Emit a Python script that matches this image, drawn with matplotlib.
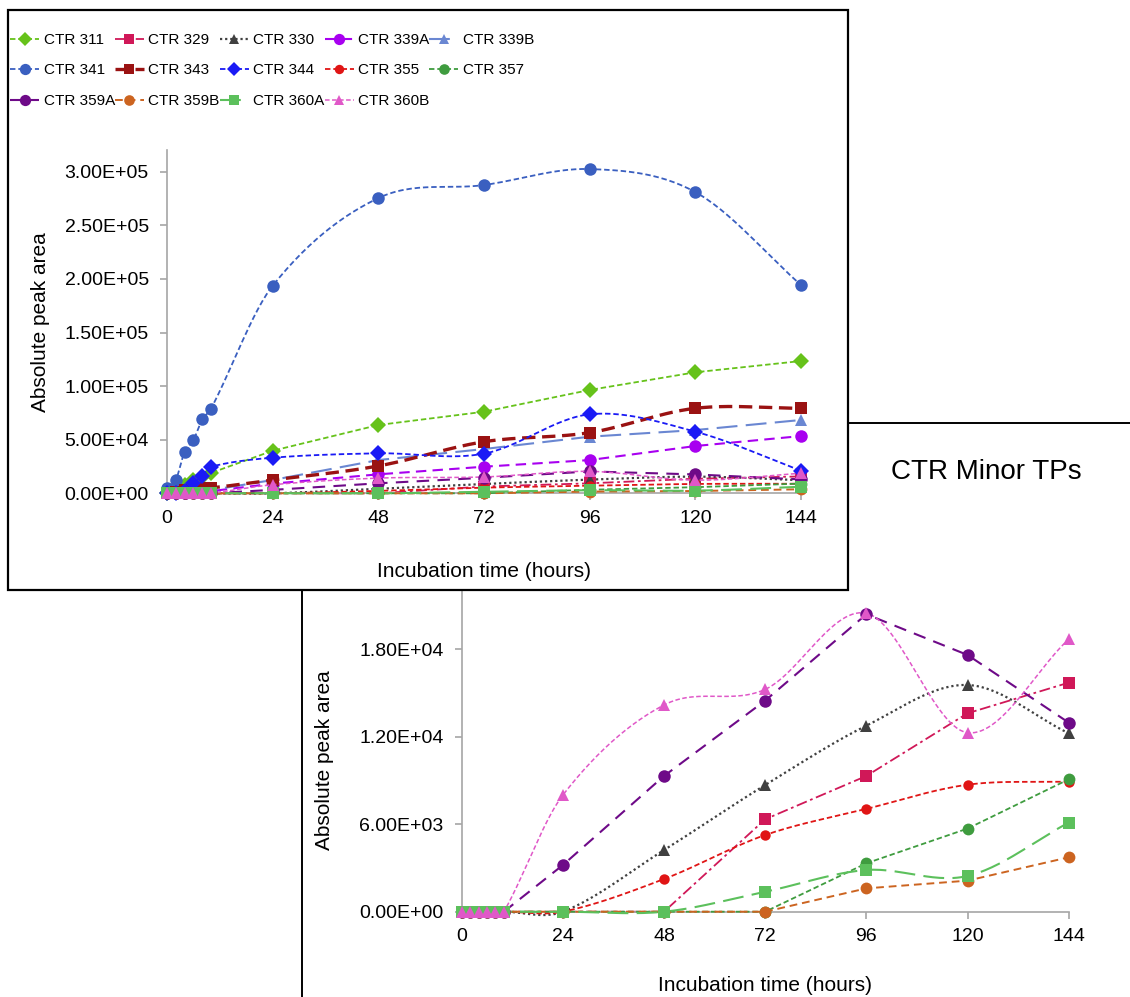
import numpy as np
import matplotlib
import matplotlib.pyplot as plt
from matplotlib.lines import Line2D
from matplotlib.patches import Rectangle

matplotlib.rcParams['font.family'] = ['Liberation Sans', 'DejaVu Sans']

# temps d'incubation (heures)
hours = [0, 2, 4, 6, 8, 10, 24, 48, 72, 96, 120, 144]

# aires de pics absolues
ctr311 = [0, 3000, 8000, 12000, 15000, 19000, 39700, 63700, 76100, 96400, 112900, 123400]
ctr329 = [0, 0, 0, 0, 0, 0, 0, 0, 6340, 9310, 13610, 15710]
ctr330 = [0, 0, 0, 0, 0, 0, 0, 4230, 8690, 12760, 15550, 12240]
ctr339a = [0, 0, 0, 1000, 1000, 2000, 9000, 17700, 24800, 31000, 44100, 53400]
ctr339b = [0, 0, 1000, 2000, 2000, 3000, 12400, 31000, 41300, 52800, 59000, 68400]
ctr341 = [5000, 12400, 38800, 49700, 69000, 78900, 193600, 275400, 287600, 302500, 281000, 194300]
ctr343 = [0, 1000, 3000, 4000, 5000, 5000, 12400, 25500, 48100, 56600, 79300, 79300]
ctr344 = [0, 0, 2000, 9900, 16400, 24800, 33200, 37300, 37000, 73700, 57500, 21100]
ctr355 = [0, 0, 0, 0, 0, 0, 0, 2240, 5260, 7050, 8710, 8920]
ctr357 = [0, 0, 0, 0, 0, 0, 0, 0, 0, 3320, 5700, 9080]
ctr359a = [0, 0, 0, 0, 0, 0, 3200, 9310, 14480, 20400, 17610, 12970]
ctr359b = [0, 0, 0, 0, 0, 0, 0, 0, 0, 1600, 2130, 3730]
ctr360a = [0, 0, 0, 0, 0, 0, 0, 0, 1370, 2860, 2450, 6110]
ctr360b = [0, 0, 0, 0, 0, 0, 8000, 14180, 15250, 20470, 12280, 18690]

# nom, données, couleur, style, épaisseur, marqueur, taille, lissé
series = [
    ("CTR 311", ctr311, "#66C21A", (0, (3, 1.6)), 1.3, "D", 8, False),
    ("CTR 329", ctr329, "#D01858", (0, (6, 2, 1.5, 2)), 1.3, "s", 8, False),
    ("CTR 330", ctr330, "#404040", (0, (1, 1.3)), 1.6, "^", 8, True),
    ("CTR 339A", ctr339a, "#A800F0", (0, (5, 3)), 1.5, "o", 9, False),
    ("CTR 339B", ctr339b, "#6A87D2", (0, (10, 4)), 1.5, "^", 8, False),
    ("CTR 341", ctr341, "#3A5FC0", (0, (3, 1.6)), 1.3, "o", 9, True),
    ("CTR 343", ctr343, "#9A1212", (0, (4, 2)), 2.4, "s", 8, True),
    ("CTR 344", ctr344, "#1A1AF5", (0, (3, 1.6)), 1.3, "D", 8, True),
    ("CTR 355", ctr355, "#E01515", (0, (3, 1.6)), 1.3, "o", 7.5, True),
    ("CTR 357", ctr357, "#3F9C3F", (0, (3, 1.6)), 1.3, "o", 8.5, False),
    ("CTR 359A", ctr359a, "#6E0A88", (0, (6, 4)), 1.5, "o", 9, False),
    ("CTR 359B", ctr359b, "#CC6420", (0, (4, 2.5)), 1.4, "o", 8.5, False),
    ("CTR 360A", ctr360a, "#5CC05C", (0, (10, 4)), 1.5, "s", 8.5, True),
    ("CTR 360B", ctr360b, "#E058C8", (0, (3, 1.6)), 1.1, "^", 8, True),
]
inset_names = ["CTR 329", "CTR 330", "CTR 355", "CTR 357", "CTR 359A",
               "CTR 359B", "CTR 360A", "CTR 360B"]

W, H = 1130, 997


def box(left, top, right, bottom):
    return [left / W, 1 - bottom / H, (right - left) / W, (bottom - top) / H]


def smooth(x, y, n=30):
    # courbe lissée (Hermite, tangentes type Catmull-Rom)
    x = np.asarray(x, float)
    y = np.asarray(y, float)
    m = np.zeros_like(y)
    for i in range(len(x)):
        a = max(i - 1, 0)
        b = min(i + 1, len(x) - 1)
        m[i] = (y[b] - y[a]) / (x[b] - x[a])
    xs, ys = [], []
    for i in range(len(x) - 1):
        h = x[i + 1] - x[i]
        t = np.linspace(0, 1, n)
        h00 = 2 * t**3 - 3 * t**2 + 1
        h10 = t**3 - 2 * t**2 + t
        h01 = -2 * t**3 + 3 * t**2
        h11 = t**3 - t**2
        xs.append(x[i] + t * h)
        ys.append(h00 * y[i] + h10 * h * m[i] + h01 * y[i + 1] + h11 * h * m[i + 1])
    return np.concatenate(xs), np.concatenate(ys)


def draw(ax, name, data, color, ls, lw, mk, ms, sm, z):
    if sm:
        sx, sy = smooth(hours, data)
    else:
        sx, sy = hours, data
    ax.plot(sx, sy, color=color, ls=ls, lw=lw, zorder=z, clip_on=False)
    ax.plot(hours, data, ls="none", marker=mk, ms=ms, color=color,
            markeredgewidth=0, zorder=z + 0.5, clip_on=False)


def style_axes(ax):
    for s in ["top", "right"]:
        ax.spines[s].set_visible(False)
    for s in ["left", "bottom"]:
        ax.spines[s].set_color("#A6A6A6")
        ax.spines[s].set_linewidth(1.2)
    ax.tick_params(axis="both", colors="#A6A6A6", labelcolor="black",
                   labelsize=14, length=5, width=1.2, direction="out")
    ax.tick_params(axis="x", pad=7)
    ax.tick_params(axis="y", pad=8)
    ax.set_xlim(0, 144)
    ax.set_xticks([0, 24, 48, 72, 96, 120, 144])


fig = plt.figure(figsize=(W / 100, H / 100), dpi=100)

# encadré du graphique des TPs mineurs
fig.patches.append(Rectangle((302 / W, -0.05), 1.0, 1 - 422.7 / H + 0.05,
                             transform=fig.transFigure, fill=False,
                             edgecolor="black", lw=1.4, zorder=0.5))

ax2 = fig.add_axes(box(461.7, 561.8, 1068.7, 911.7), zorder=1)
ax2.set_facecolor("none")
style_axes(ax2)
ax2.set_ylim(0, 24000)
ax2.set_yticks([0, 6000, 12000, 18000])
ax2.set_yticklabels(["0.00E+00", "6.00E+03", "1.20E+04", "1.80E+04"])
for k, s in enumerate(series):
    if s[0] in inset_names:
        draw(ax2, *s, z=2 + k * 0.1)
ax2.set_xlabel("Incubation time (hours)", fontsize=15)
ax2.xaxis.set_label_coords(0.5, -0.183)
ax2.set_ylabel("Absolute peak area", fontsize=15)
ax2.yaxis.set_label_coords(-0.21, 0.434)

fig.text(986.7 / W, 1 - 471.7 / H, "CTR Minor TPs", fontsize=20,
         ha="center", va="center")

# encadré principal (blanc, par-dessus)
fig.patches.append(Rectangle((8 / W, 1 - 590 / H), 840 / W, 580 / H,
                             transform=fig.transFigure, facecolor="white",
                             edgecolor="black", lw=1.6, zorder=2))

ax1 = fig.add_axes(box(167, 150.3, 801, 493.3), zorder=3)
ax1.set_facecolor("none")
style_axes(ax1)
ax1.set_ylim(0, 320000)
ax1.set_yticks([0, 50000, 100000, 150000, 200000, 250000, 300000])
ax1.set_yticklabels(["0.00E+00", "5.00E+04", "1.00E+05", "1.50E+05",
                     "2.00E+05", "2.50E+05", "3.00E+05"])
handles = []
for k, s in enumerate(series):
    draw(ax1, *s, z=2 + k * 0.1)
    name, data, color, ls, lw, mk, ms, sm = s
    handles.append(Line2D([], [], color=color, ls=ls, lw=lw, marker=mk,
                          ms=ms * 0.9, markeredgewidth=0, label=name))
ax1.set_xlabel("Incubation time (hours)", fontsize=15)
ax1.xaxis.set_label_coords(0.5, -0.2)
ax1.set_ylabel("Absolute peak area", fontsize=15)
ax1.yaxis.set_label_coords(-0.184, 0.5)

# légende remplie ligne par ligne (5 colonnes)
ncol = 5
order = [r * ncol + c for c in range(ncol) for r in range(3) if r * ncol + c < len(handles)]
leg = fig.legend(handles=[handles[i] for i in order], ncol=ncol, loc="upper left",
                 bbox_to_anchor=(10 / W, 1 - 33 / H), frameon=False,
                 borderaxespad=0, borderpad=0, handlelength=1.9,
                 handletextpad=0.3, columnspacing=0.0, labelspacing=1.08,
                 prop={"size": 11})
leg.set_zorder(5)

fig.savefig("out.png", dpi=100)
